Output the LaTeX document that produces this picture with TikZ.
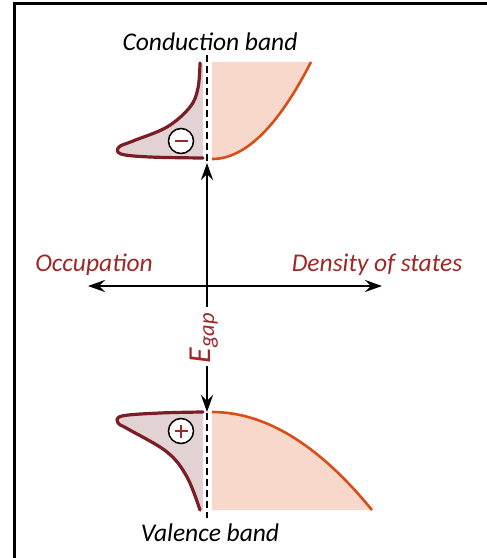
\documentclass[tikz,border=0pt]{standalone}
\usepackage{fontspec}
\setmainfont{Carlito}
\usetikzlibrary{arrows.meta}
\begin{document}
\begin{tikzpicture}[x=1pt,y=-1pt,
  lbl/.style={font=\fontsize{25.5}{30}\selectfont\itshape,inner sep=0pt},
  axis/.style={line width=2.8pt,-{Stealth[length=17pt,width=12pt,inset=6pt]}},
  occline/.style={maroon,line width=3.2pt,line join=round,line cap=round},
  dosline/.style={burnt,line width=2.6pt},
  carrier/.style={circle,draw,fill=white,line width=1.5pt,minimum size=25pt,inner sep=0pt}]
\useasboundingbox (0,0) rectangle (487,558);

\definecolor{maroon}{RGB}{120,30,36}
\definecolor{occfill}{RGB}{226,210,211}
\definecolor{dosfill}{RGB}{248,216,202}
\definecolor{burnt}{RGB}{214,78,26}
\definecolor{labred}{RGB}{158,40,40}

\draw[line width=3pt] (14.5,560) -- (14.5,3.5) -- (490,3.5);

% conduction band
\fill[dosfill] (212,62) -- (212,159) -- plot[domain=0:99,samples=40] ({212+\x},{159-0.0099*\x*\x}) -- cycle;
\draw[dosline] plot[domain=0:99,samples=40] ({212+\x},{159-0.0099*\x*\x});
\fill[occfill] (203,63) -- plot[smooth,tension=0.6] coordinates {(200,63) (198,88) (190,107) (167,127) (133,141) (119,147) (121,154) (150,157) (203,158)} -- cycle;
\draw[occline] plot[smooth,tension=0.6] coordinates {(200,63) (198,88) (190,107) (167,127) (133,141) (119,147) (121,154) (150,157) (203,158)};

% valence band
\fill[dosfill] (212,412) -- (212,510) -- (372,510) -- plot[domain=160:0,samples=40] ({212+\x},{412+0.00383*\x*\x}) -- cycle;
\draw[dosline] plot[domain=0:160,samples=40] ({212+\x},{412+0.00383*\x*\x});
\fill[occfill] (203,510) -- plot[smooth,tension=0.6] coordinates {(200,510) (187,477) (167,452) (128,429) (118,423) (122,416) (160,413) (203,412)} -- cycle;
\draw[occline] plot[smooth,tension=0.6] coordinates {(200,510) (187,477) (167,452) (128,429) (118,423) (122,416) (160,413) (203,412)};

\draw[line width=1.5pt,dash pattern=on 7pt off 4pt] (207,55) -- (207,165);
\draw[line width=1.5pt,dash pattern=on 7pt off 4pt] (207,413) -- (207,518);

% carriers
\node[carrier] (elec) at (181,141) {};
\draw[labred,line width=2.6pt] ([xshift=-6.5pt]elec.center) -- ([xshift=6.5pt]elec.center);
\node[carrier] (hole) at (181,431) {};
\draw[labred,line width=2.6pt] ([xshift=-6.5pt]hole.center) -- ([xshift=6.5pt]hole.center);
\draw[labred,line width=2.6pt] ([yshift=-6.5pt]hole.center) -- ([yshift=6.5pt]hole.center);

% axes
\coordinate (cross) at (207,286);
\coordinate (occ) at (88,286);
\coordinate (dos) at (382,286);
\coordinate (cbedge) at (207,163);
\coordinate (vbedge) at (207,412);
\coordinate (gaptop) at (207,307);
\coordinate (gapbot) at (207,366);
\draw[axis] (cross) -- (occ);
\draw[axis] (cross) -- (dos);
\draw[axis] (gaptop) -- (cbedge);
\draw[axis] (gapbot) -- (vbedge);

\node[lbl] (cond) at (210,42) {Conduction band};
\node[lbl] (val) at (210,533) {Valence band};
\node[lbl,labred] (occlbl) at (94,265) {Occupation};
\node[lbl,labred] (doslbl) at (377,265) {Density of states};
\node[lbl,labred,rotate=90,font=\fontsize{32}{36}\selectfont\itshape] (egap) at (204,338) {E\textsubscript{gap}};
\end{tikzpicture}
\end{document}
